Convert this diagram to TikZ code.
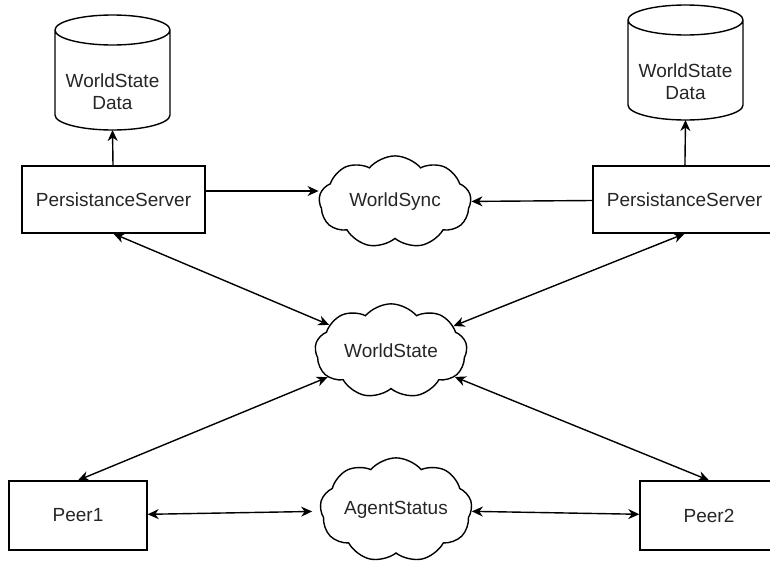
\documentclass[tikz,border=0pt]{standalone}
\usepackage{fontspec}
\setmainfont{Liberation Sans}
\usetikzlibrary{shapes.symbols,arrows.meta}

\begin{document}
\begin{tikzpicture}[x=1pt, y=1pt,
  every node/.style={font=\fontsize{19}{22}\selectfont, text=black!85},
  box/.style={draw, line width=1.4pt, minimum width=183pt, minimum height=67pt, inner sep=0pt},
  drum/.style={line width=1.4pt},
  blob/.style={draw, cloud, cloud puffs=9, cloud puff arc=100, aspect=1.7, minimum width=152pt, minimum height=89pt, line width=1.4pt, inner sep=0pt},
  tip/.tip={Stealth[length=11pt,width=10pt,inset=3.5pt]},
  link/.style={line width=1.4pt, -tip},
  both/.style={line width=1.4pt, tip-tip}
]
\useasboundingbox (0,0) rectangle (770,-562);
\fill[white] (0,0) rectangle (770,-562);
% data stores
\node[align=center] (db1) at (112.5,-92) {WorldState\\Data};
\node[align=center] (db2) at (685.5,-82) {WorldState\\Data};
\foreach \d in {db1,db2}{
  \draw[drum] ([shift={(-57.5,62)}]\d.center) -- ([shift={(-57.5,-23)}]\d.center)
    arc[start angle=180, end angle=360, x radius=57.5, y radius=15]
    -- ([shift={(57.5,62)}]\d.center)
    arc[start angle=0, end angle=360, x radius=57.5, y radius=15];
  \coordinate (\d bot) at ([yshift=-38]\d.center);
}
% servers
\node[box] (ps1) at (113.5,-199.5) {PersistanceServer};
\node[box] (ps2) at (684.5,-199.5) {PersistanceServer};
% clouds
\node[blob] (wsync) at (395,-202) {WorldSync};
\node[blob] (wstate) at (391,-351) {WorldState};
\node[blob] (astatus) at (396,-510) {AgentStatus};
% peers
\node[box, minimum width=138pt, minimum height=69pt] (peer1) at (78,-515.5) {Peer1};
\node[box, minimum width=138pt, minimum height=69pt] (peer2) at (709,-515.5) {Peer2};
% connectors
\coordinate (out1) at ([yshift=8.5pt]ps1.east);
\coordinate (out2) at ([yshift=-1pt]ps2.west);
\draw[link] (ps1) -- (db1bot);
\draw[link] (ps2) -- (db2bot);
\draw[link] (out1) -- (out1 -| wsync.west);
\draw[link] (out2) -- (wsync);
\draw[both] (ps1.south) -- (wstate);
\draw[both] (ps2.south) -- (wstate);
\draw[both] (peer1.north) -- (wstate);
\draw[both] (peer2.north) -- (wstate);
\draw[both, shorten >=8pt] (peer1) -- (astatus);
\draw[both] (astatus) -- (peer2);
\end{tikzpicture}
\end{document}
